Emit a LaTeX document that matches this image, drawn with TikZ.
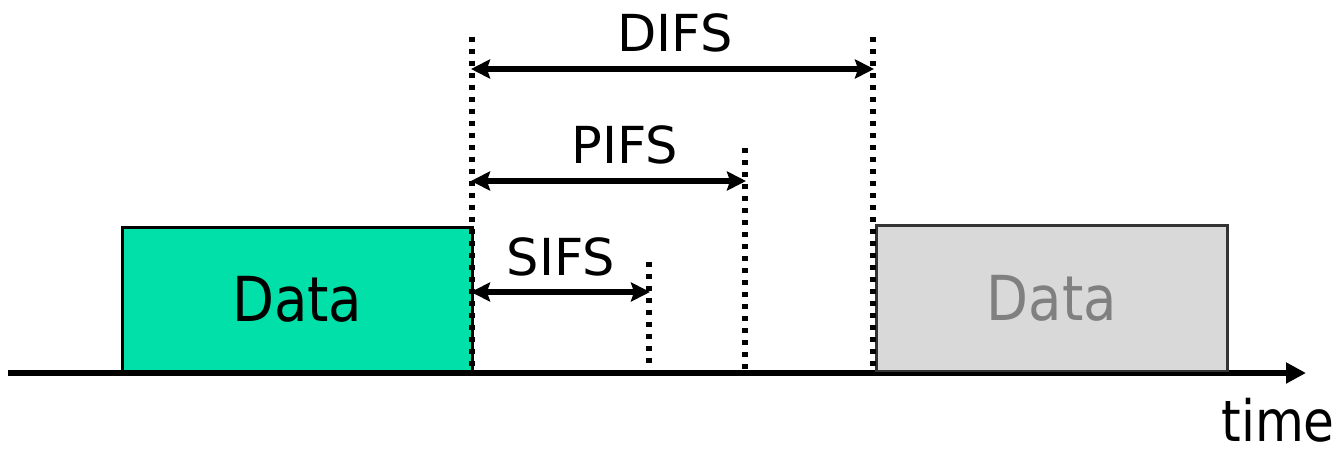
\documentclass[tikz,border=0pt]{standalone}
\usepackage{fontspec}
\setmainfont{DejaVu Sans}
\newfontfamily\narrowfont[FakeStretch=0.88]{DejaVu Sans}
\usetikzlibrary{arrows.meta,positioning}
\definecolor{datagreen}{HTML}{00E0A8}
\definecolor{datagray}{HTML}{D9D9D9}
\definecolor{textgray}{HTML}{808080}
\tikzset{
  databox/.style={draw=black,line width=2.5pt,inner sep=0pt,
    font=\narrowfont\fontsize{62}{70}\selectfont},
  ifsline/.style={line width=5.5pt,dash pattern=on 5pt off 7pt},
  ifsarrow/.style={line width=5.5pt,{Stealth[length=19pt,width=19pt,inset=3pt]}-{Stealth[length=19pt,width=19pt,inset=3pt]},shorten <=-1pt,shorten >=-1pt},
  ifslabel/.style={font=\fontsize{51}{60}\selectfont,inner sep=0pt}
}

\begin{document}
\begin{tikzpicture}[x=1pt,y=-1pt]
\useasboundingbox (0,0) rectangle (1341,449);

% time axis
\coordinate (t0) at (8,373);
\coordinate (t1) at (1306,373);
\draw[line width=6pt,-{Triangle[length=20pt,width=20pt]}] (t0) -- (t1);
\node[anchor=base east,font=\narrowfont\fontsize{57}{60}\selectfont,inner sep=0pt] (time) at (1335,441) {time};

% frames
\node[databox,fill=datagreen,minimum width=350pt,minimum height=143pt,anchor=south west] (data1) at (121,372) {Data};
\node[databox,draw=black!80,fill=datagray,text=textgray,minimum width=351pt,minimum height=145pt,anchor=south west] (data2) at (875,372) {Data};

% interframe spaces
\coordinate (s0) at (472,37);
\coordinate (s1) at (472,372);
\coordinate (d0) at (873,37);
\coordinate (d1) at (873,372);
\coordinate (p0) at (745,148);
\coordinate (p1) at (745,372);
\coordinate (f0) at (649,262);
\coordinate (f1) at (649,372);
\draw[ifsline] (s0) -- (s1);
\draw[ifsline] (d0) -- (d1);
\draw[ifsline] (p0) -- (p1);
\draw[ifsline] (f0) -- (f1);

\coordinate (difsA) at (472,69);
\coordinate (difsB) at (873,69);
\coordinate (pifsA) at (472,181);
\coordinate (pifsB) at (745,181);
\coordinate (sifsA) at (472,292);
\coordinate (sifsB) at (649,292);
\draw[ifsarrow] (difsA) -- (difsB);
\draw[ifsarrow] (pifsA) -- (pifsB);
\draw[ifsarrow] (sifsA) -- (sifsB);

\node[ifslabel,anchor=base] (difs) at (675,52) {DIFS};
\node[ifslabel,anchor=base] (pifs) at (625,164) {PIFS};
\node[ifslabel,anchor=base] (sifs) at (561,275) {SIFS};
\end{tikzpicture}
\end{document}
